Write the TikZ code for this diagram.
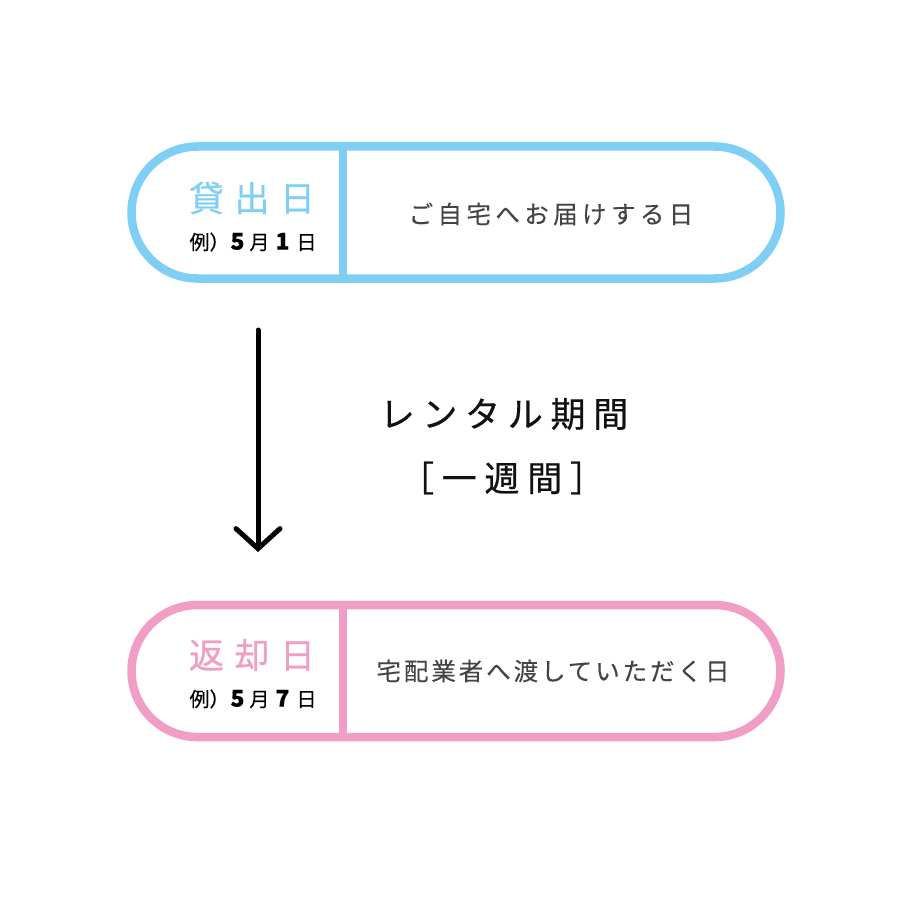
\documentclass[tikz,border=0pt]{standalone}
\usepackage{fontspec}
\setmainfont{Noto Sans CJK JP}
\usetikzlibrary{arrows.meta, positioning, shapes.misc, calc}
\definecolor{lendblue}{HTML}{7FCEF4}
\definecolor{backpink}{HTML}{F09EC3}
\definecolor{textgray}{HTML}{444444}
\definecolor{textblack}{HTML}{111111}
\newcommand{\daynum}[1]{{\bfseries\fontsize{23}{23}\selectfont #1}}
\newcommand{\dayline}[2]{例）\hspace{1pt}\daynum{#1}\hspace{5pt}月\hspace{6pt}\daynum{#2}\hspace{7pt}日}

\begin{document}
\begin{tikzpicture}[
                x=1pt, y=-1pt,
                capsule/.style={rounded rectangle, draw, line width=8.5pt, minimum width=649pt, minimum height=132pt, inner sep=0pt},
                divider/.style={line width=8pt},
                title/.style={inner sep=0pt, font=\fontsize{35}{35}\selectfont\addfontfeature{LetterSpace=30, FakeBold=0.6}},
                example/.style={inner sep=0pt, text=black, font=\fontsize{20}{20}\selectfont\addfontfeature{FakeBold=0.4}},
                note/.style={inner sep=0pt, text=textgray, font=\fontsize{24.5}{24.5}\selectfont\addfontfeature{LetterSpace=18, FakeBold=0.3}},
                period/.style={inner sep=0pt, text=textblack, font=\fontsize{35}{35}\selectfont\addfontfeature{LetterSpace=22, FakeBold=0.5}},
                every node/.style={align=center}
            ]
            \useasboundingbox (0,0) rectangle (920,920);

            % lending day
            \node[capsule, draw=lendblue] (lend) at (456,212.5) {};
            \coordinate (lenddiv) at (343,212.5);
            \draw[divider, lendblue] (lenddiv |- lend.north) -- (lenddiv |- lend.south);
            \node[title, text=lendblue] (lendtitle) at (252,198) {貸出日};
            \node[example] (lendex) at (253,242) {\dayline{5}{1}};
            \node[note] (lendnote) at (551,214) {ご自宅へお届けする日};

            % rental period
            \coordinate (arrtop) at (258,330);
            \coordinate (arrbot) at (258,552);
            \draw[line width=5pt, line cap=round, -{Straight Barb[length=20pt, width=44pt, line cap=round]}] (arrtop) -- (arrbot);
            \node[period] (period) at (504,414) {レンタル期間};
            \node[period] (week) at (502,478) {［一週間］};

            % return day
            \node[capsule, draw=backpink] (back) at (456,671) {};
            \coordinate (backdiv) at (343,671);
            \draw[divider, backpink] (backdiv |- back.north) -- (backdiv |- back.south);
            \node[title, text=backpink] (backtitle) at (252,655) {返却日};
            \node[example] (backex) at (253,699) {\dayline{5}{7}};
            \node[note, font=\fontsize{24.5}{24.5}\selectfont\addfontfeature{LetterSpace=12, FakeBold=0.3}] (backnote) at (553,671) {宅配業者へ渡していただく日};
        \end{tikzpicture}
\end{document}
